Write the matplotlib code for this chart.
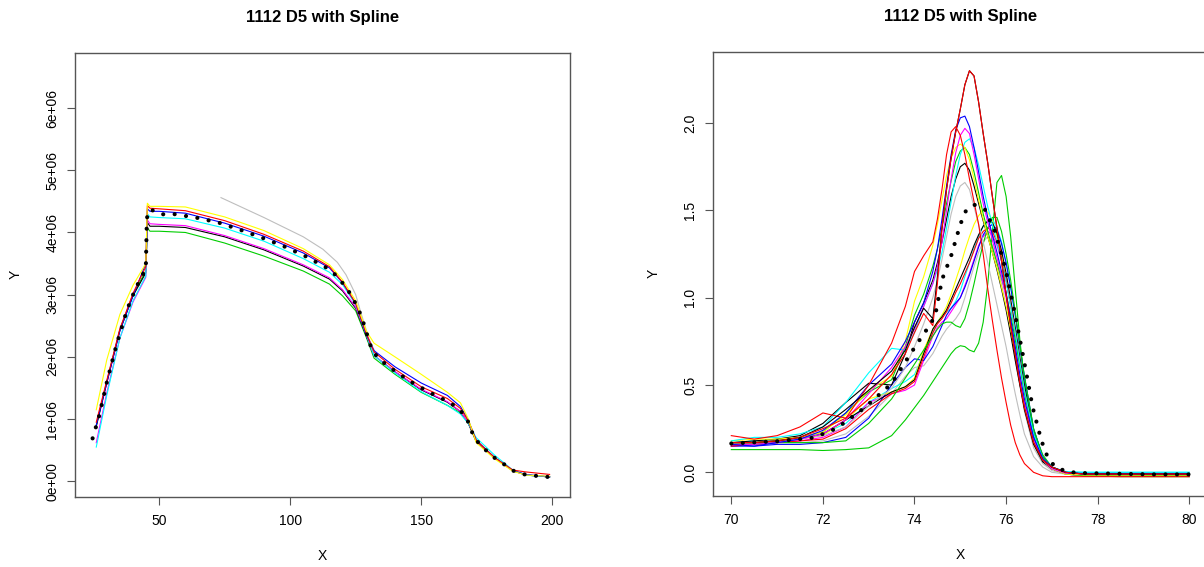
import numpy as np
import matplotlib
matplotlib.use("Agg")
import matplotlib.pyplot as plt

plt.rcParams['font.family'] = ['Liberation Sans', 'DejaVu Sans']

# =========================
# Left panel data (full run, values in units of 1e6)
# =========================
left_x = [26, 30, 35, 40, 44.9, 45.5, 46.5, 50, 60, 75, 90, 105, 115, 120, 125,
          129, 132, 140, 150, 160, 165, 168, 171, 178, 185, 190, 199]

left_yellow = [1.15, 1.95, 2.68, 3.15, 3.50, 4.47, 4.42, 4.42, 4.41, 4.25, 4.03, 3.74, 3.48, 3.24,
               2.90, 2.42, 2.22, 2.00, 1.72, 1.43, 1.26, 1.00, 0.62, 0.36, 0.16, 0.10, 0.08]
left_red = [0.95, 1.62, 2.45, 3.02, 3.45, 4.43, 4.39, 4.38, 4.35, 4.19, 3.97, 3.70, 3.45, 3.20,
            2.86, 2.38, 2.08, 1.80, 1.52, 1.33, 1.17, 0.97, 0.66, 0.38, 0.18, 0.15, 0.11]
left_blue = [0.90, 1.58, 2.42, 2.98, 3.50, 4.38, 4.34, 4.34, 4.31, 4.15, 3.94, 3.67, 3.43, 3.19,
             2.86, 2.36, 2.10, 1.84, 1.58, 1.38, 1.20, 0.98, 0.66, 0.38, 0.17, 0.11, 0.07]
left_cyan = [0.55, 1.38, 2.30, 2.90, 3.30, 4.30, 4.25, 4.24, 4.22, 4.07, 3.86, 3.58, 3.36, 3.16,
             2.84, 2.36, 2.02, 1.74, 1.44, 1.22, 1.08, 0.93, 0.70, 0.42, 0.18, 0.10, 0.07]
left_magenta = [0.62, 1.42, 2.30, 2.88, 3.28, 4.20, 4.14, 4.13, 4.11, 3.95, 3.74, 3.48, 3.27, 3.08,
                2.80, 2.36, 2.02, 1.76, 1.48, 1.28, 1.12, 0.94, 0.65, 0.38, 0.17, 0.10, 0.07]
left_black = [0.88, 1.58, 2.42, 2.98, 3.35, 4.16, 4.10, 4.10, 4.08, 3.93, 3.72, 3.46, 3.25, 3.06,
              2.78, 2.34, 2.02, 1.76, 1.47, 1.27, 1.12, 0.93, 0.64, 0.38, 0.17, 0.10, 0.07]
left_green = [0.90, 1.60, 2.44, 3.00, 3.38, 4.07, 4.02, 4.02, 4.00, 3.83, 3.62, 3.38, 3.17, 2.98,
              2.74, 2.32, 1.98, 1.72, 1.43, 1.22, 1.10, 0.93, 0.64, 0.38, 0.17, 0.10, 0.07]

left_gray_x = [73.6, 90, 105, 112.5, 118, 121.3, 125, 127.2, 130, 133]
left_gray_y = [4.56, 4.24, 3.93, 3.73, 3.52, 3.32, 3.00, 2.68, 2.30, 2.02]

# spline (dotted black)
left_mean_x = [24.6, 27.1, 30.3, 33.7, 37.7, 40.9, 43.8, 44.9, 45.3, 45.7, 46.8, 50.6, 55.0,
               63.9, 72.6, 81.1, 89.6, 98.0, 106.2, 114.4, 117.8, 120.7, 123.2, 125.4, 127.2,
               128.6, 129.9, 131.3, 134.1, 137.7, 145.2, 153.1, 161.2, 164.9, 167.5, 169.4,
               171.2, 174.4, 177.9, 181.4, 185.1, 189.5, 193.9, 198.3]
left_mean_y = [0.69, 1.05, 1.64, 2.19, 2.75, 3.09, 3.33, 3.40, 4.20, 4.34, 4.37, 4.29, 4.30,
               4.24, 4.16, 4.04, 3.91, 3.77, 3.61, 3.42, 3.30, 3.15, 3.00, 2.82, 2.65,
               2.46, 2.28, 2.10, 1.96, 1.84, 1.62, 1.43, 1.26, 1.14, 1.00, 0.79,
               0.65, 0.51, 0.38, 0.28, 0.17, 0.11, 0.087, 0.07]

left_xticks = [50, 100, 150, 200]
left_yticks = [0, 1e6, 2e6, 3e6, 4e6, 5e6, 6e6]
left_ylabels = ["0e+00", "1e+06", "2e+06", "3e+06", "4e+06", "5e+06", "6e+06"]

# =========================
# Right panel data (zoom on the peak)
# =========================
right_x = [70.0, 70.5, 71.0, 71.5, 72.0, 72.5, 73.0, 73.5, 73.8,
           74.0, 74.2, 74.4, 74.5, 74.6, 74.7, 74.8, 74.9,
           75.0, 75.1, 75.2, 75.3, 75.4, 75.5, 75.6, 75.7, 75.8, 75.9,
           76.0, 76.1, 76.2, 76.3, 76.4,
           76.6, 76.8, 77.0, 77.3, 77.7, 78.5, 79.3, 80.0]

r_black_tall = [0.17, 0.17, 0.18, 0.20, 0.26, 0.36, 0.47, 0.58, 0.70,
                0.83, 0.94, 0.88, 1.12, 1.40, 1.62, 1.80, 1.95,
                2.08, 2.22, 2.30, 2.27, 2.12, 1.94, 1.77, 1.58, 1.40, 1.21,
                1.02, 0.84, 0.67, 0.51, 0.37,
                0.17, 0.07, 0.03, 0.00, -0.01, -0.01, -0.01, -0.01]
r_red_tall = [0.17, 0.17, 0.18, 0.20, 0.25, 0.31, 0.42, 0.56, 0.68,
              0.80, 0.91, 0.84, 1.08, 1.40, 1.62, 1.80, 1.95,
              2.08, 2.22, 2.30, 2.27, 2.12, 1.94, 1.77, 1.58, 1.40, 1.21,
              1.02, 0.84, 0.67, 0.51, 0.37,
              0.17, 0.07, 0.03, 0.00, -0.01, -0.01, -0.01, -0.01]
r_red_outer = [0.21, 0.19, 0.21, 0.26, 0.34, 0.31, 0.50, 0.74, 0.95,
               1.15, 1.24, 1.32, 1.45, 1.62, 1.82, 1.95, 1.98,
               1.93, 1.82, 1.68, 1.55, 1.42, 1.25, 1.05, 0.87, 0.70, 0.54,
               0.40, 0.27, 0.17, 0.10, 0.05,
               0.00, -0.02, -0.025, -0.025, -0.025, -0.025, -0.025, -0.025]
r_blue = [0.16, 0.15, 0.17, 0.19, 0.24, 0.34, 0.50, 0.62, 0.75,
          0.86, 0.97, 1.15, 1.28, 1.45, 1.64, 1.82, 1.96,
          2.03, 2.04, 1.98, 1.86, 1.72, 1.58, 1.46, 1.36, 1.26, 1.15,
          1.03, 0.88, 0.72, 0.56, 0.42,
          0.20, 0.08, 0.03, 0.00, -0.01, -0.01, -0.01, -0.01]
r_magenta = [0.16, 0.16, 0.17, 0.19, 0.22, 0.30, 0.45, 0.60, 0.72,
             0.82, 0.95, 1.08, 1.18, 1.32, 1.50, 1.68, 1.83,
             1.93, 1.97, 1.94, 1.82, 1.68, 1.54, 1.43, 1.33, 1.23, 1.12,
             1.00, 0.85, 0.70, 0.54, 0.40,
             0.19, 0.07, 0.02, -0.005, -0.01, -0.01, -0.01, -0.01]
r_cyan = [0.18, 0.20, 0.20, 0.22, 0.26, 0.40, 0.57, 0.71, 0.70,
          0.80, 0.95, 1.08, 1.16, 1.26, 1.40, 1.55, 1.70,
          1.82, 1.89, 1.91, 1.86, 1.76, 1.64, 1.52, 1.42, 1.32, 1.21,
          1.09, 0.95, 0.80, 0.63, 0.47,
          0.22, 0.08, 0.03, 0.005, 0.00, 0.00, 0.00, 0.00]
r_yellow = [0.18, 0.19, 0.19, 0.20, 0.23, 0.33, 0.47, 0.55, 0.75,
            0.98, 1.12, 1.30, 1.42, 1.56, 1.70, 1.80, 1.86,
            1.88, 1.86, 1.79, 1.68, 1.56, 1.45, 1.35, 1.26, 1.17, 1.06,
            0.95, 0.82, 0.68, 0.54, 0.40,
            0.18, 0.07, 0.02, -0.01, -0.015, -0.015, -0.015, -0.015]
r_green = [0.17, 0.17, 0.18, 0.20, 0.23, 0.34, 0.46, 0.53, 0.72,
           0.90, 1.02, 1.18, 1.28, 1.40, 1.54, 1.67, 1.78,
           1.84, 1.86, 1.82, 1.72, 1.60, 1.48, 1.38, 1.29, 1.20, 1.11,
           1.02, 0.90, 0.76, 0.61, 0.46,
           0.22, 0.08, 0.02, -0.01, -0.02, -0.02, -0.02, -0.02]
r_black = [0.17, 0.18, 0.19, 0.21, 0.28, 0.40, 0.51, 0.50, 0.68,
           0.86, 0.97, 1.10, 1.20, 1.32, 1.45, 1.58, 1.68,
           1.75, 1.77, 1.73, 1.64, 1.54, 1.44, 1.35, 1.26, 1.16, 1.05,
           0.93, 0.79, 0.64, 0.50, 0.36,
           0.16, 0.06, 0.02, -0.005, -0.01, -0.01, -0.01, -0.01]
r_gray = [0.17, 0.17, 0.18, 0.19, 0.21, 0.26, 0.38, 0.48, 0.60,
          0.72, 0.85, 1.00, 1.10, 1.22, 1.35, 1.48, 1.58,
          1.64, 1.66, 1.62, 1.52, 1.42, 1.32, 1.20, 1.08, 0.96, 0.84,
          0.72, 0.58, 0.45, 0.33, 0.22,
          0.09, 0.03, 0.00, -0.01, -0.02, -0.02, -0.02, -0.02]
r_green_late = [0.13, 0.13, 0.13, 0.13, 0.125, 0.13, 0.14, 0.21, 0.30,
                0.37, 0.44, 0.52, 0.56, 0.60, 0.64, 0.68, 0.71,
                0.725, 0.72, 0.70, 0.69, 0.74, 0.86, 1.08, 1.38, 1.66, 1.70,
                1.58, 1.35, 1.05, 0.76, 0.52,
                0.24, 0.10, 0.03, 0.00, -0.02, -0.025, -0.025, -0.025]
r_green_dip = [0.16, 0.16, 0.17, 0.17, 0.17, 0.18, 0.28, 0.42, 0.54,
               0.62, 0.70, 0.78, 0.82, 0.85, 0.86, 0.86, 0.84,
               0.83, 0.88, 0.97, 1.08, 1.20, 1.31, 1.40, 1.46, 1.46, 1.38,
               1.25, 1.10, 0.92, 0.73, 0.55,
               0.25, 0.09, 0.03, 0.00, -0.02, -0.02, -0.02, -0.02]
r_red_low = [0.15, 0.16, 0.17, 0.18, 0.19, 0.25, 0.36, 0.45, 0.48,
             0.52, 0.66, 0.80, 0.85, 0.88, 0.92, 0.97, 1.03,
             1.08, 1.14, 1.20, 1.27, 1.34, 1.38, 1.40, 1.38, 1.32, 1.22,
             1.10, 0.96, 0.80, 0.63, 0.47,
             0.20, 0.07, 0.02, -0.01, -0.02, -0.02, -0.02, -0.02]
r_black_low = [0.17, 0.17, 0.18, 0.19, 0.22, 0.30, 0.38, 0.46, 0.49,
               0.53, 0.68, 0.82, 0.86, 0.89, 0.93, 0.99, 1.05,
               1.11, 1.17, 1.23, 1.30, 1.36, 1.41, 1.44, 1.43, 1.37, 1.27,
               1.14, 0.99, 0.83, 0.66, 0.50,
               0.22, 0.08, 0.025, 0.00, -0.01, -0.01, -0.01, -0.01]
r_yellow_low = [0.17, 0.17, 0.18, 0.19, 0.21, 0.30, 0.42, 0.46, 0.49,
                0.54, 0.70, 0.82, 0.86, 0.90, 0.95, 1.02, 1.10,
                1.18, 1.27, 1.35, 1.42, 1.47, 1.50, 1.49, 1.44, 1.35, 1.24,
                1.10, 0.95, 0.79, 0.62, 0.46,
                0.20, 0.07, 0.02, -0.005, -0.015, -0.015, -0.015, -0.015]
r_blue_low = [0.15, 0.15, 0.16, 0.16, 0.17, 0.20, 0.31, 0.50, 0.60,
              0.65, 0.64, 0.72, 0.78, 0.84, 0.90, 0.94, 0.97,
              1.00, 1.06, 1.13, 1.21, 1.29, 1.36, 1.40, 1.42, 1.39, 1.31,
              1.20, 1.06, 0.90, 0.72, 0.55,
              0.25, 0.09, 0.03, 0.00, -0.005, -0.005, -0.005, -0.005]
r_magenta_low = [0.15, 0.16, 0.17, 0.18, 0.20, 0.26, 0.40, 0.45, 0.47,
                 0.50, 0.64, 0.78, 0.83, 0.86, 0.88, 0.92, 0.96,
                 1.00, 1.07, 1.14, 1.22, 1.30, 1.35, 1.38, 1.36, 1.30, 1.21,
                 1.10, 0.96, 0.80, 0.63, 0.47,
                 0.21, 0.08, 0.02, -0.005, -0.01, -0.01, -0.01, -0.01]
r_gray_low = [0.16, 0.16, 0.17, 0.17, 0.18, 0.22, 0.32, 0.45, 0.55,
              0.60, 0.61, 0.68, 0.73, 0.78, 0.82, 0.85, 0.88,
              0.92, 1.00, 1.09, 1.18, 1.26, 1.32, 1.35, 1.30, 1.20, 1.08,
              0.95, 0.80, 0.65, 0.50, 0.35,
              0.14, 0.05, 0.01, -0.01, -0.02, -0.02, -0.02, -0.02]
r_cyan_low = [0.17, 0.18, 0.19, 0.20, 0.22, 0.28, 0.40, 0.48, 0.52,
              0.56, 0.68, 0.80, 0.86, 0.90, 0.92, 0.94, 0.98,
              1.04, 1.12, 1.20, 1.28, 1.35, 1.41, 1.44, 1.45, 1.40, 1.32,
              1.20, 1.06, 0.90, 0.72, 0.54,
              0.24, 0.09, 0.03, 0.00, 0.00, 0.00, 0.00, 0.00]

right_mean_x = [70.0, 71.0, 71.8, 72.3, 72.9, 73.5, 73.9, 74.2, 74.35, 74.46, 74.6, 74.8, 75.0,
                75.12, 75.3, 75.54, 75.75, 75.97, 76.19, 76.39, 76.58, 76.77, 76.9, 77.06,
                77.32, 77.6, 78.4, 79.2, 80.0]
right_mean_y = [0.165, 0.178, 0.198, 0.252, 0.368, 0.508, 0.674, 0.793, 0.847, 0.909, 1.103, 1.24,
                1.42, 1.496, 1.533, 1.504, 1.384, 1.182, 0.913, 0.640, 0.372, 0.182, 0.091, 0.033,
                0.004, -0.004, -0.008, -0.012, -0.012]

right_xticks = [70, 72, 74, 76, 78, 80]
right_yticks = [0.0, 0.5, 1.0, 1.5, 2.0]
right_ylabels = ["0.0", "0.5", "1.0", "1.5", "2.0"]

title = "1112 D5 with Spline"

# R's base palette
C_RED, C_GREEN, C_BLUE = "#FF0000", "#00CD00", "#0000FF"
C_CYAN, C_MAG, C_YEL, C_GRAY = "#00FFFF", "#FF00FF", "#FFFF00", "#BEBEBE"

# =========================
# Figure
# =========================
W, H = 1204, 567
fig = plt.figure(figsize=(W / 100, H / 100), dpi=100)

def px_axes(x0, y0, x1, y1):
    return fig.add_axes([x0 / W, 1 - y1 / H, (x1 - x0) / W, (y1 - y0) / H])

ax1 = px_axes(75.3, 52.7, 570.3, 496.7)
ax2 = px_axes(713.3, 51.7, 1207.3, 495.7)

lw = 0.8
dots = dict(color="black", lw=3.0, linestyle=(0, (0.01, 2.75)), dash_capstyle="round")

# left
lx = np.array(left_x)
ax1.plot(left_gray_x, np.array(left_gray_y) * 1e6, color=C_GRAY, lw=lw)
for ys, c in [(left_green, C_GREEN), (left_black, "black"), (left_magenta, C_MAG),
              (left_cyan, C_CYAN), (left_blue, C_BLUE), (left_red, C_RED), (left_yellow, C_YEL)]:
    ax1.plot(lx, np.array(ys) * 1e6, color=c, lw=lw)
ax1.plot(left_mean_x, np.array(left_mean_y) * 1e6, **dots)
ax1.set_xlim(18.0, 206.9)
ax1.set_ylim(-0.248e6, 6.89e6)
ax1.set_xticks(left_xticks)
ax1.set_yticks(left_yticks)
ax1.set_yticklabels(left_ylabels)

# right
rx = np.array(right_x)
right_series = [
    (r_green_late, C_GREEN), (r_gray_low, C_GRAY), (r_cyan_low, C_CYAN), (r_magenta_low, C_MAG),
    (r_blue_low, C_BLUE), (r_yellow_low, C_YEL), (r_black_low, "black"), (r_red_low, C_RED),
    (r_green_dip, C_GREEN), (r_gray, C_GRAY), (r_black, "black"), (r_green, C_GREEN),
    (r_yellow, C_YEL), (r_cyan, C_CYAN), (r_magenta, C_MAG), (r_blue, C_BLUE),
    (r_red_outer, C_RED), (r_black_tall, "black"), (r_red_tall, C_RED),
]
for ys, c in right_series:
    assert len(ys) == len(rx)
    ax2.plot(rx, ys, color=c, lw=lw)
ax2.plot(right_mean_x, right_mean_y, **dots)
ax2.set_xlim(69.607, 80.393)
ax2.set_ylim(-0.134, 2.409)
ax2.set_xticks(right_xticks)
ax2.set_yticks(right_yticks)
ax2.set_yticklabels(right_ylabels)

for ax, hpx, wpx in [(ax1, 444.0, 495.0), (ax2, 444.0, 494.0)]:
    for s in ax.spines.values():
        s.set_color("#555555")
        s.set_linewidth(1.0)
    ax.tick_params(axis="both", direction="out", length=5.5, width=0.8, color="#555555",
                   labelsize=10, labelcolor="black")
    ax.tick_params(axis="x", pad=7)
    ax.tick_params(axis="y", pad=6)
    for lab in ax.get_yticklabels():
        lab.set_rotation(90)
        lab.set_va("center")
    ax.set_xlabel("X", fontsize=10)
    ax.set_ylabel("Y", fontsize=10)
    ax.xaxis.set_label_coords(0.5, -59.5 / hpx)
    ax.xaxis.label.set_va("center")
    ax.yaxis.set_label_coords(-60.0 / wpx, 0.5)
    ax.yaxis.label.set_va("center")
    ax.yaxis.label.set_ha("center")
    ax.text(0.5, 1 + 35.0 / hpx, title, transform=ax.transAxes, ha="center", va="center",
            fontsize=12, fontweight="bold")

fig.savefig("out.png", dpi=100)
